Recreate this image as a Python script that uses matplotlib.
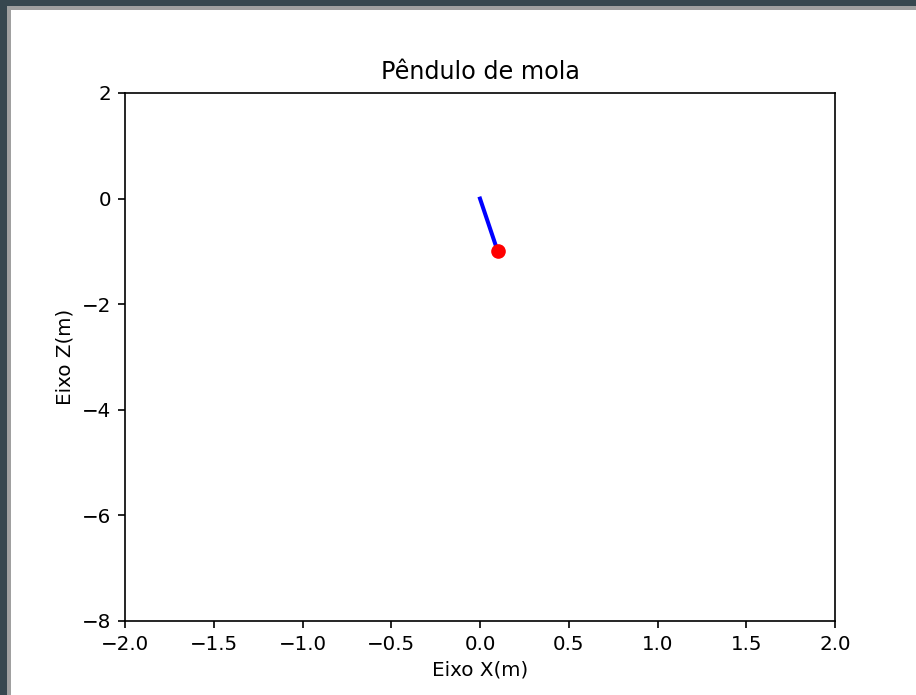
import matplotlib
matplotlib.use("Agg")
import matplotlib.pyplot as plt
from matplotlib.patches import Rectangle

# posicao do pendulo (ponto de suspensao e massa)
haste_x = [0.0, 0.1]
haste_z = [0.0, -1.0]
massa_x = [0.1]
massa_z = [-1.0]

xticks = [-2.0, -1.5, -1.0, -0.5, 0.0, 0.5, 1.0, 1.5, 2.0]
zticks = [-8, -6, -4, -2, 0, 2]

fig = plt.figure(figsize=(9.16, 6.95), dpi=100)
fig.patch.set_facecolor('#37474f')
# moldura da janela
fig.patches.append(Rectangle((7 / 916, 0), 1, 1 - 6 / 695, transform=fig.transFigure,
                             facecolor='#a0a0a0', edgecolor='none', zorder=-2))
fig.patches.append(Rectangle((11 / 916, 0), 1, 1 - 10 / 695, transform=fig.transFigure,
                             facecolor='white', edgecolor='none', zorder=-1))

ax = fig.add_axes([125 / 916, 1 - 621 / 695, 710 / 916, 528 / 695])
ax.plot(haste_x, haste_z, color='blue', lw=2.9)
ax.plot(massa_x, massa_z, 'o', color='red', markersize=9.5)

ax.set_xlim(-2, 2)
ax.set_ylim(-8, 2)
ax.set_xticks(xticks)
ax.set_yticks(zticks)
ax.tick_params(labelsize=14.3, length=5, width=1.2, pad=5)
for s in ax.spines.values():
    s.set_linewidth(1.2)
ax.set_title('Pêndulo de mola', fontsize=17.2, pad=10)
ax.set_xlabel('Eixo X(m)', fontsize=14.3, labelpad=5)
ax.set_ylabel('Eixo Z(m)', fontsize=14.3, labelpad=5)

fig.savefig('out.png', dpi=100, facecolor=fig.get_facecolor())
